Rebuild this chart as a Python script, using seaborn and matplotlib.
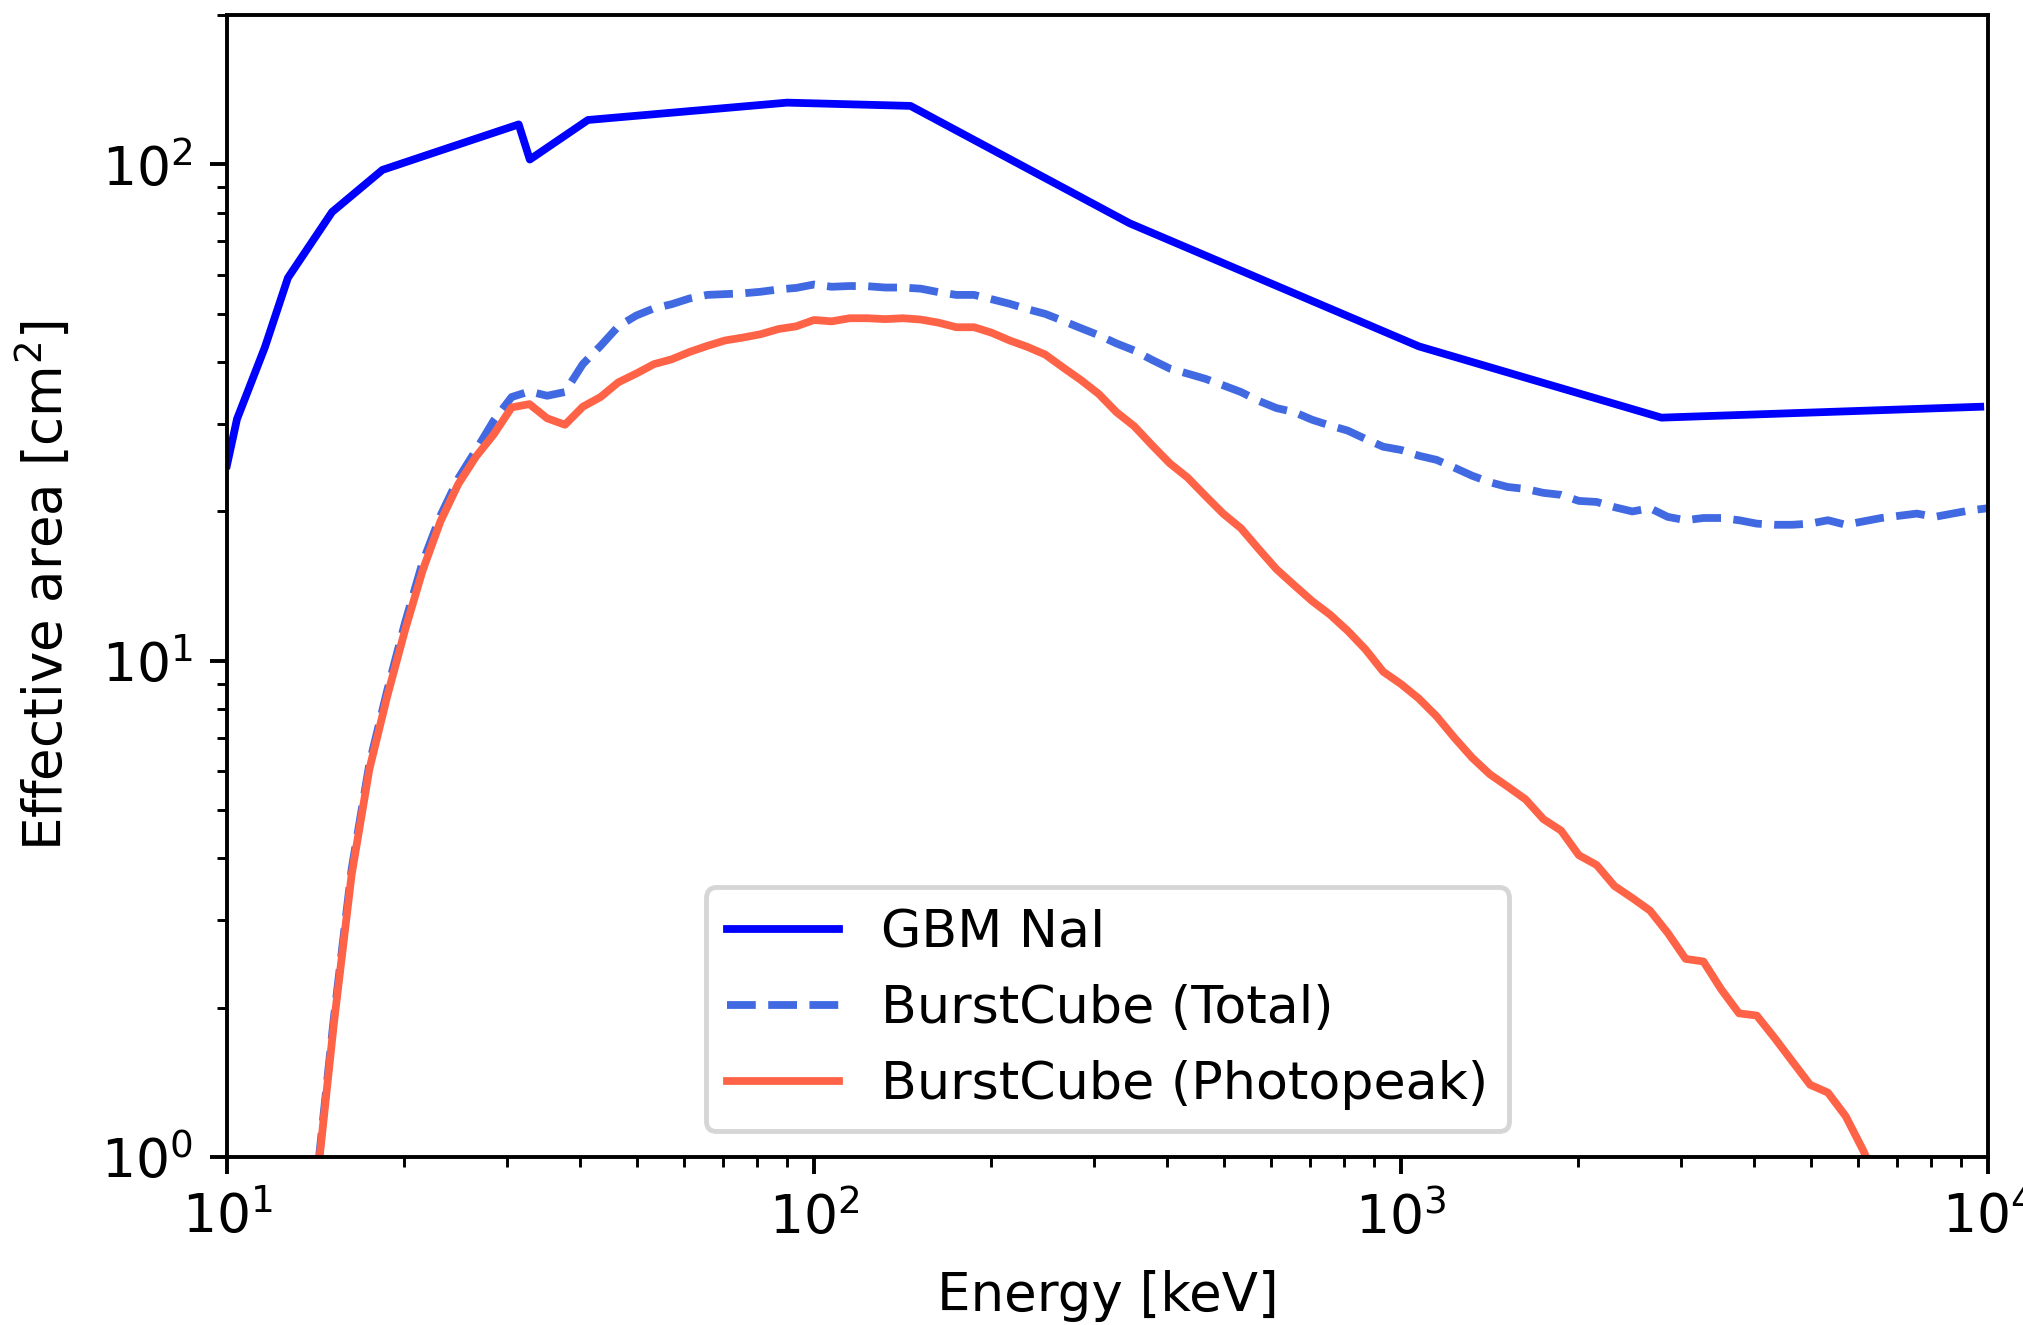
import matplotlib
matplotlib.use("Agg")
import matplotlib.pyplot as plt
import seaborn as sns
import pandas as pd

# ---------------- data ----------------
gbm_energy = [10.0, 10.4, 11.6, 12.7, 15.1, 18.4, 23.0, 31.4, 32.8, 41.2,
              90.0, 146.0, 345.0, 1073.0, 2778.0, 9700.0]
gbm_area = [24.8, 30.7, 42.8, 59.1, 80.2, 97.5, 106.5, 120.4, 102.3, 122.9,
            133.2, 131.2, 76.1, 43.0, 30.9, 32.5]

bc_energy = [10.0, 10.72, 11.50, 12.33, 13.22, 14.17, 15.20, 16.30, 17.48, 18.74,
             20.09, 21.54, 23.10, 24.77, 26.56, 28.48, 30.54, 32.75, 35.11, 37.65,
             40.37, 43.29, 46.42, 49.77, 53.37, 57.22, 61.36, 65.79, 70.55, 75.65,
             81.11, 86.97, 93.26, 100.0, 107.2, 115.0, 123.3, 132.2, 141.7, 152.0,
             163.0, 174.8, 187.4, 200.9, 215.4, 231.0, 247.7, 265.6, 284.8, 305.4,
             327.5, 351.1, 376.5, 403.7, 432.9, 464.2, 497.7, 533.7, 572.2, 613.6,
             657.9, 705.5, 756.5, 811.1, 869.7, 932.6, 1000.0, 1072.0, 1150.0, 1233.0,
             1322.0, 1417.0, 1520.0, 1630.0, 1748.0, 1874.0, 2009.0, 2154.0, 2310.0, 2477.0,
             2656.0, 2848.0, 3054.0, 3275.0, 3511.0, 3765.0, 4037.0, 4329.0, 4642.0, 4977.0,
             5337.0, 5722.0, 6136.0, 6579.0, 7055.0, 7565.0, 8111.0, 8697.0, 9326.0, 10000.0]

bc_total = [0.004, 0.012, 0.04, 0.13, 0.35, 0.87, 1.9, 3.8, 6.2, 8.7,
            11.9, 15.8, 19.6, 23.3, 26.6, 30.5, 34.0, 34.9, 34.2, 34.8,
            39.6, 43.1, 47.2, 49.6, 51.3, 52.3, 53.7, 54.6, 54.8, 55.0,
            55.4, 56.0, 56.4, 57.3, 56.7, 56.9, 56.85, 56.5, 56.5, 56.2,
            55.3, 54.6, 54.6, 53.5, 52.4, 51.1, 50.0, 48.4, 46.8, 45.3,
            43.6, 42.2, 40.4, 38.8, 37.9, 37.0, 35.9, 34.8, 33.4, 32.3,
            31.7, 30.6, 29.8, 29.1, 28.0, 27.0, 26.6, 25.9, 25.4, 24.5,
            23.6, 22.9, 22.4, 22.2, 21.8, 21.6, 21.0, 20.9, 20.4, 20.0,
            20.3, 19.5, 19.2, 19.4, 19.4, 19.2, 18.9, 18.8, 18.8, 18.9,
            19.2, 18.8, 19.1, 19.4, 19.6, 19.8, 19.5, 19.8, 20.1, 20.3]

bc_photopeak = [0.004, 0.011, 0.038, 0.12, 0.33, 0.85, 1.85, 3.70, 6.05, 8.47,
                11.5, 15.2, 19.1, 22.7, 25.8, 28.6, 32.4, 32.9, 30.8, 29.9,
                32.5, 34.0, 36.4, 37.9, 39.6, 40.5, 41.9, 43.1, 44.2, 44.8,
                45.5, 46.6, 47.2, 48.6, 48.3, 49.0, 49.0, 48.8, 49.0, 48.7,
                48.0, 47.0, 47.0, 45.8, 44.2, 42.9, 41.4, 39.0, 36.8, 34.5,
                31.7, 29.7, 27.2, 25.0, 23.4, 21.5, 19.8, 18.5, 16.8, 15.3,
                14.2, 13.2, 12.4, 11.5, 10.55, 9.51, 8.98, 8.40, 7.73, 7.00,
                6.38, 5.91, 5.58, 5.26, 4.80, 4.55, 4.06, 3.88, 3.52, 3.33,
                3.14, 2.83, 2.51, 2.48, 2.18, 1.95, 1.93, 1.74, 1.56, 1.40,
                1.35, 1.21, 1.03, 0.85, 0.78, 0.70, 0.63, 0.57, 0.52, 0.47]

labels = ["GBM NaI", "BurstCube (Total)", "BurstCube (Photopeak)"]
x_limits = (10, 1e4)
y_limits = (1, 200)
x_label = "Energy [keV]"
y_label = "Effective area [cm$^2$]"

# ---------------- figure ----------------
DPI = 350
FS = 11
plt.rcParams["font.size"] = FS
plt.rcParams["font.family"] = ["DejaVu Sans"]

fig = plt.figure(figsize=(2023 / DPI, 1325 / DPI), dpi=DPI)
ax = fig.add_axes([227 / 2023, 1 - 1157.3 / 1325, (1988 - 227) / 2023, (1157.3 - 15) / 1325])
ax.set_xscale("log")
ax.set_yscale("log")

gbm_df = pd.DataFrame({"energy": gbm_energy, "area": gbm_area})
bc_df = pd.DataFrame({"energy": bc_energy, "total": bc_total, "photopeak": bc_photopeak})

LW = 1.6
sns.lineplot(data=gbm_df, x="energy", y="area", ax=ax, color="blue", lw=LW,
             label=labels[0], estimator=None, sort=False)
sns.lineplot(data=bc_df, x="energy", y="total", ax=ax, color="royalblue", lw=LW,
             linestyle="--", label=labels[1], estimator=None, sort=False)
sns.lineplot(data=bc_df, x="energy", y="photopeak", ax=ax, color="tomato", lw=LW,
             label=labels[2], estimator=None, sort=False)

ax.set_xlim(*x_limits)
ax.set_ylim(*y_limits)
ax.set_xlabel(x_label, fontsize=10.9, labelpad=5.3)
ax.set_ylabel(y_label, fontsize=10.9, labelpad=5.9)
ax.tick_params(axis="both", which="major", labelsize=FS)

ax.legend(loc="lower center", fontsize=10.75, handlelength=2.15)

fig.savefig("out.png", dpi=DPI)
